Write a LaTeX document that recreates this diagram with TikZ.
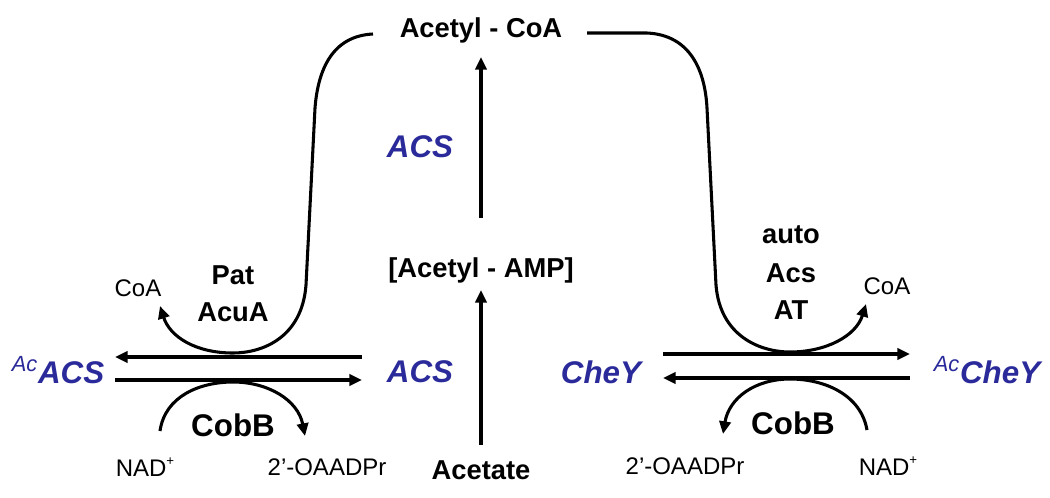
\documentclass[tikz,border=0pt]{standalone}
\usepackage{fontspec}
\setmainfont{Liberation Sans}
\usetikzlibrary{arrows.meta}
\definecolor{enz}{RGB}{42,42,154}
\tikzset{
  lbl/.style={font=\fontsize{20.5}{22}\selectfont\bfseries, inner sep=0pt},
  cob/.style={font=\fontsize{23.5}{25}\selectfont\bfseries, inner sep=0pt},
  prot/.style={font=\fontsize{23.5}{25}\selectfont\bfseries\itshape, text=enz, inner sep=0pt},
  small/.style={font=\fontsize{18}{20}\selectfont, inner sep=0pt},
  ln/.style={line width=2.3pt, line cap=butt},
  arr/.style={ln, -{Triangle[length=9.5pt,width=8.5pt]}},
}
\newcommand{\acsup}[1]{\textsuperscript{\mdseries\itshape #1}}
\newcommand{\plus}{\raisebox{0.45em}{\fontsize{10}{10}\selectfont +}}
\begin{document}
\begin{tikzpicture}[x=0.75pt,y=-0.75pt]
\useasboundingbox (0,0) rectangle (1050,497);
% nodes
\node[lbl] (acoa) at (481,30) {Acetyl - CoA};
\node[prot] (acsmid) at (420,147) {ACS};
\node[lbl] (aamp) at (481,270) {[Acetyl - AMP]};
\node[lbl] (acet) at (481,470) {Acetate};
\node[lbl] (pat) at (233,275) {Pat};
\node[lbl] (acua) at (233,312) {AcuA};
\node[lbl] (auto) at (791,235) {auto};
\node[lbl] (acs2) at (791,273) {Acs};
\node[lbl] (at) at (791,310) {AT};
\node[small] (coaL) at (138,288) {CoA};
\node[small] (coaR) at (887,286) {CoA};
\node[prot] (acacs) at (58,370) {\acsup{Ac}ACS};
\node[prot] (acsR) at (420,372) {ACS};
\node[prot] (chey) at (601,372) {CheY};
\node[prot] (accheY) at (987,370) {\acsup{Ac}CheY};
\node[cob] (cobL) at (233,425) {CobB};
\node[cob] (cobR) at (793,423) {CobB};
\node[small] (nadL) at (145,467) {NAD\plus};
\node[small] (oaL) at (327,467) {2’-OAADPr};
\node[small] (oaR) at (685,466) {2’-OAADPr};
\node[small] (nadR) at (888,466) {NAD\plus};
% coordinates
\coordinate (m1) at (481,218); \coordinate (m1t) at (481,57);
\coordinate (m2) at (481,445); \coordinate (m2t) at (481,290);
\coordinate (lt1) at (362,357); \coordinate (lt2) at (115,357);
\coordinate (lb1) at (115,380); \coordinate (lb2) at (362,380);
\coordinate (rt1) at (663,354); \coordinate (rt2) at (910,354);
\coordinate (rb1) at (910,378); \coordinate (rb2) at (663,378);
% central arrows
\draw[arr] (m1) -- (m1t);
\draw[arr] (m2) -- (m2t);
% horizontal arrows
\draw[arr] (lt1) -- (lt2);
\draw[arr] (lb1) -- (lb2);
\draw[arr] (rt1) -- (rt2);
\draw[arr] (rb1) -- (rb2);
% left U
\draw[arr] (373,34) .. controls (332,36) and (318,70) .. (315,108) -- (306,285)
  .. controls (302,338) and (262,353) .. (233,353)
  .. controls (196,353) and (170,337) .. (160,306);
% right U
\draw[arr] (587,33) -- (647,33) .. controls (690,35) and (705,70) .. (707,108) -- (716,285)
  .. controls (720,336) and (760,352) .. (790,352)
  .. controls (826,352) and (856,336) .. (866,304);
% CobB arcs
\draw[arr] (160,431) .. controls (165,396) and (200,382) .. (233,382)
  .. controls (268,382) and (298,400) .. (305,436);
\draw[arr] (867,430) .. controls (861,395) and (825,379) .. (790,379)
  .. controls (755,379) and (729,398) .. (723,434);
\end{tikzpicture}
\end{document}
